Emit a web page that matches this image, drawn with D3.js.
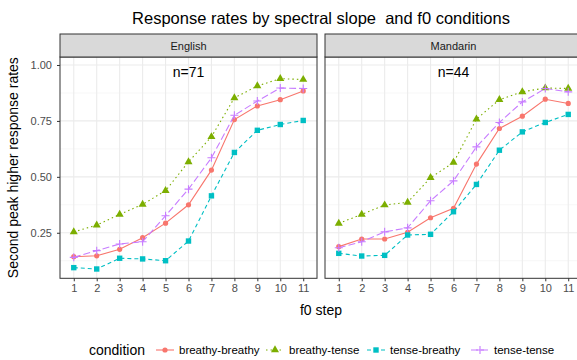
<!DOCTYPE html>
<html>
<head>
<meta charset="utf-8">
<script src="https://cdn.jsdelivr.net/npm/d3@7"></script>
<style>
  body { margin: 0; background: #fff; }
  text { font-family: "Liberation Sans", Arial, sans-serif; }
</style>
</head>
<body>
<div id="chart"></div>
<script>
// data
var steps = [1, 2, 3, 4, 5, 6, 7, 8, 9, 10, 11];
var languages = ["English", "Mandarin"];
var nLabels = ["n=71", "n=44"];
var conditions = ["breathy-breathy", "breathy-tense", "tense-breathy", "tense-tense"];

var englishBB = [0.143, 0.147, 0.176, 0.228, 0.293, 0.375, 0.530, 0.756, 0.817, 0.845, 0.884];
var englishBT = [0.254, 0.284, 0.332, 0.377, 0.438, 0.567, 0.679, 0.853, 0.906, 0.939, 0.935];
var englishTB = [0.094, 0.088, 0.136, 0.133, 0.125, 0.213, 0.415, 0.609, 0.708, 0.734, 0.752];
var englishTT = [0.140, 0.170, 0.200, 0.210, 0.326, 0.445, 0.585, 0.775, 0.839, 0.897, 0.895];

var mandarinBB = [0.188, 0.222, 0.222, 0.252, 0.317, 0.359, 0.557, 0.716, 0.771, 0.847, 0.828];
var mandarinBT = [0.292, 0.332, 0.374, 0.386, 0.496, 0.564, 0.758, 0.845, 0.880, 0.897, 0.895];
var mandarinTB = [0.158, 0.146, 0.149, 0.240, 0.243, 0.344, 0.466, 0.619, 0.701, 0.743, 0.779];
var mandarinTT = [0.183, 0.210, 0.254, 0.272, 0.393, 0.482, 0.634, 0.743, 0.835, 0.895, 0.880];

var yTicks = [0.25, 0.50, 0.75, 1.00];

var colors = ["#F8766D", "#7CAE00", "#00BFC4", "#C77CFF"];
var dashes = [null, "1.5,3", "4,3", "7,3"];

var panels = [
  { lang: languages[0], n: nLabels[0], series: [englishBB, englishBT, englishTB, englishTT] },
  { lang: languages[1], n: nLabels[1], series: [mandarinBB, mandarinBT, mandarinTB, mandarinTT] }
];

var W = 577, H = 360;
var panelW = 257, gap = 8, left = 60;
var plotTop = 57, plotBottom = 278.3, stripTop = 34;

var svg = d3.select('#chart').append('svg')
  .attr('width', W).attr('height', H);

var y = d3.scaleLinear().domain([0.0464, 1.0357]).range([plotBottom, plotTop]);

// title
svg.append('text')
  .attr('x', left + (2 * panelW + gap) / 2).attr('y', 24)
  .attr('text-anchor', 'middle')
  .style('font-size', '16.5px').attr('fill', '#000')
  .text("Response rates by spectral slope\u00a0 and f0 conditions");

// y title
svg.append('text')
  .attr('transform', 'translate(18,' + ((plotTop + plotBottom) / 2) + ') rotate(-90)')
  .attr('text-anchor', 'middle')
  .style('font-size', '14px')
  .text("Second peak higher response rates");

// x title
svg.append('text')
  .attr('x', left + (2 * panelW + gap) / 2).attr('y', 315)
  .attr('text-anchor', 'middle')
  .style('font-size', '14px')
  .text("f0 step");

// y axis
var yAxis = svg.append('g').attr('transform', 'translate(' + left + ',0)')
  .call(d3.axisLeft(y).tickValues(yTicks).tickFormat(d3.format('.2f')).tickSize(3).tickPadding(5));
yAxis.select('.domain').remove();
yAxis.selectAll('line').attr('stroke', '#333');
yAxis.selectAll('text').attr('fill', '#4d4d4d').style('font-size', '11px')
  .style('font-family', '"Liberation Sans", Arial, sans-serif');

var minorY = [0.125, 0.375, 0.625, 0.875];

panels.forEach(function(p, pi) {
  var x0 = left + pi * (panelW + gap);
  var x = d3.scaleLinear().domain([0.4, 11.6]).range([x0, x0 + panelW]);
  var g = svg.append('g');

  g.append('rect').attr('x', x0).attr('y', plotTop).attr('width', panelW).attr('height', plotBottom - plotTop)
    .attr('fill', '#fff');

  // grid
  g.selectAll('line.minor').data(minorY).enter().append('line')
    .attr('x1', x0).attr('x2', x0 + panelW)
    .attr('y1', function(d) { return y(d); }).attr('y2', function(d) { return y(d); })
    .attr('stroke', '#f2f2f2').attr('stroke-width', 0.6);
  g.selectAll('line.majory').data(yTicks).enter().append('line')
    .attr('x1', x0).attr('x2', x0 + panelW)
    .attr('y1', function(d) { return y(d); }).attr('y2', function(d) { return y(d); })
    .attr('stroke', '#ebebeb').attr('stroke-width', 1.1);
  g.selectAll('line.majorx').data(steps).enter().append('line')
    .attr('y1', plotTop).attr('y2', plotBottom)
    .attr('x1', function(d) { return x(d); }).attr('x2', function(d) { return x(d); })
    .attr('stroke', '#ebebeb').attr('stroke-width', 1.1);

  // series
  p.series.forEach(function(vals, si) {
    var pts = steps.map(function(s, i) { return [s, vals[i]]; });
    var line = d3.line().x(function(d) { return x(d[0]); }).y(function(d) { return y(d[1]); });
    g.append('path').attr('d', line(pts))
      .attr('fill', 'none').attr('stroke', colors[si]).attr('stroke-width', 1.1)
      .attr('stroke-dasharray', dashes[si]);
    pts.forEach(function(d) {
      drawOne(g, x(d[0]), y(d[1]), si, colors[si]);
    });
  });

  // n label
  g.append('text')
    .attr('x', x(6)).attr('y', y(0.97) + 5)
    .attr('text-anchor', 'middle').style('font-size', '14px')
    .text(p.n);

  // border
  g.append('rect').attr('x', x0).attr('y', plotTop).attr('width', panelW).attr('height', plotBottom - plotTop)
    .attr('fill', 'none').attr('stroke', '#333').attr('stroke-width', 1);

  // strip
  g.append('rect').attr('x', x0).attr('y', stripTop).attr('width', panelW).attr('height', plotTop - stripTop)
    .attr('fill', '#d9d9d9').attr('stroke', '#333').attr('stroke-width', 1);
  g.append('text').attr('x', x0 + panelW / 2).attr('y', (stripTop + plotTop) / 2 + 4)
    .attr('text-anchor', 'middle').attr('fill', '#1a1a1a').style('font-size', '11px')
    .text(p.lang);

  // x axis
  var xAxis = svg.append('g').attr('transform', 'translate(0,' + plotBottom + ')')
    .call(d3.axisBottom(x).tickValues(steps).tickFormat(d3.format('d')).tickSize(3).tickPadding(3));
  xAxis.select('.domain').remove();
  xAxis.selectAll('line').attr('stroke', '#333');
  xAxis.selectAll('text').attr('fill', '#4d4d4d').style('font-size', '11px')
    .style('font-family', '"Liberation Sans", Arial, sans-serif');
});

function drawOne(g, cx, cy, si, c) {
  if (si === 0) {
    g.append('circle').attr('cx', cx).attr('cy', cy).attr('r', 2.6).attr('fill', c);
  } else if (si === 1) {
    g.append('path').attr('d', d3.symbol().type(d3.symbolTriangle).size(28)())
      .attr('transform', 'translate(' + cx + ',' + cy + ')').attr('fill', c);
  } else if (si === 2) {
    g.append('rect').attr('x', cx - 2.7).attr('y', cy - 2.7).attr('width', 5.4).attr('height', 5.4).attr('fill', c);
  } else {
    g.append('path').attr('d', 'M' + (cx - 4) + ',' + cy + 'H' + (cx + 4) + 'M' + cx + ',' + (cy - 4) + 'V' + (cy + 4))
      .attr('stroke', c).attr('stroke-width', 1.1).attr('fill', 'none');
  }
}

// legend
var legend = svg.append('g');
legend.append('text').attr('x', 89).attr('y', 355).style('font-size', '14px').text('condition');
var keyX = [156, 266, 367, 471];
conditions.forEach(function(cond, i) {
  var kx = keyX[i], ky = 350;
  legend.append('line').attr('x1', kx).attr('x2', kx + 18).attr('y1', ky).attr('y2', ky)
    .attr('stroke', colors[i]).attr('stroke-width', 1.1).attr('stroke-dasharray', dashes[i]);
  drawOne(legend, kx + 9, ky, i, colors[i]);
  legend.append('text').attr('x', kx + 23).attr('y', ky + 4)
    .style('font-size', '11.5px').attr('fill', '#000').text(cond);
});
</script>
</body>
</html>
